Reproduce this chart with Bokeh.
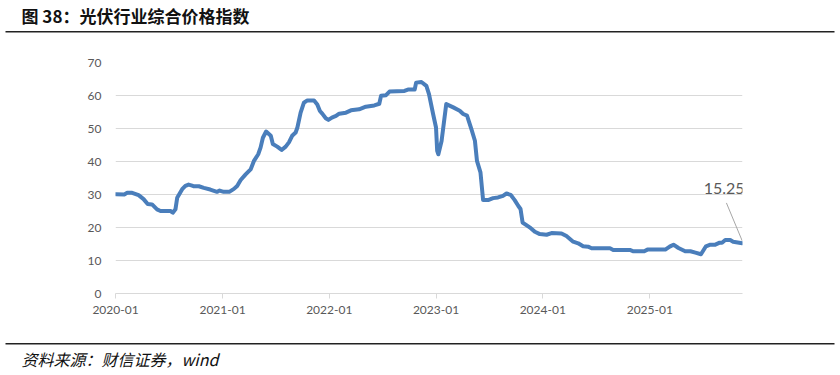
import pandas as pd
from datetime import timedelta
from bokeh.plotting import figure
from bokeh.layouts import column
from bokeh.models import (ColumnDataSource, Label, DatetimeTickFormatter,
                          FixedTicker, Range1d)
from bokeh.core.properties import value
from bokeh.embed import file_html
from bokeh.resources import INLINE

title_text = "图 38：光伏行业综合价格指数"
source_text = "资料来源：财信证券，wind"
last_label = "15.25"

dates = [
    "2020-01-03", "2020-01-31", "2020-02-10", "2020-02-27", "2020-03-20", "2020-04-06",
    "2020-04-20", "2020-05-05", "2020-05-22", "2020-06-03", "2020-07-07", "2020-07-15",
    "2020-07-24", "2020-07-30", "2020-08-16", "2020-08-27", "2020-09-07", "2020-09-19",
    "2020-09-24", "2020-10-12", "2020-10-29", "2020-11-20", "2020-12-13", "2020-12-22",
    "2021-01-05", "2021-01-24", "2021-02-09", "2021-02-20", "2021-03-04", "2021-03-21",
    "2021-04-07", "2021-04-18", "2021-05-03", "2021-05-11", "2021-05-19", "2021-05-30",
    "2021-06-15", "2021-06-22", "2021-07-07", "2021-07-22", "2021-08-05", "2021-08-16",
    "2021-08-27", "2021-09-08", "2021-09-14", "2021-09-25", "2021-10-06", "2021-10-18",
    "2021-11-10", "2021-11-21", "2021-11-30", "2021-12-08", "2021-12-20", "2021-12-29",
    "2022-01-10", "2022-01-24", "2022-02-04", "2022-02-27", "2022-03-16", "2022-04-13",
    "2022-05-06", "2022-06-04", "2022-06-21", "2022-06-27", "2022-07-14", "2022-07-26",
    "2022-09-15", "2022-09-27", "2022-10-20", "2022-10-25", "2022-11-12", "2022-11-29",
    "2022-12-08", "2022-12-22", "2023-01-01", "2023-01-05", "2023-01-09", "2023-01-20",
    "2023-02-05", "2023-03-01", "2023-03-23", "2023-04-04", "2023-04-17", "2023-05-02",
    "2023-05-14", "2023-05-21", "2023-06-02", "2023-06-11", "2023-06-28", "2023-07-15",
    "2023-08-01", "2023-08-18", "2023-08-30", "2023-09-13", "2023-09-27", "2023-10-09",
    "2023-10-17", "2023-10-24", "2023-11-06", "2023-11-21", "2023-12-05", "2023-12-22",
    "2024-01-14", "2024-01-31", "2024-03-05", "2024-03-22", "2024-04-14", "2024-05-01",
    "2024-05-18", "2024-06-04", "2024-06-16", "2024-08-18", "2024-08-29", "2024-10-25",
    "2024-11-06", "2024-12-13", "2024-12-24", "2025-02-23", "2025-03-10", "2025-03-23",
    "2025-04-09", "2025-05-02", "2025-05-20", "2025-06-06", "2025-06-25", "2025-07-12",
    "2025-07-27", "2025-08-13", "2025-08-28", "2025-09-05", "2025-09-16", "2025-10-03",
    "2025-10-13", "2025-11-13",
]
index_values = [
    30.1, 30.0, 30.5, 30.5, 29.8, 28.6,
    27.1, 27.0, 25.5, 25.0, 25.0, 24.5,
    25.5, 29.0, 31.6, 32.6, 33.0, 32.7,
    32.5, 32.5, 32.0, 31.5, 30.8, 31.2,
    30.8, 30.8, 31.7, 32.6, 34.4, 36.1,
    37.6, 40.1, 42.2, 44.2, 47.2, 49.1,
    47.8, 45.3, 44.5, 43.5, 44.5, 45.8,
    47.8, 48.8, 50.3, 54.8, 57.8, 58.5,
    58.5, 57.3, 55.3, 54.5, 53.1, 52.6,
    53.3, 53.8, 54.5, 54.8, 55.5, 55.8,
    56.6, 57.0, 57.5, 59.9, 60.1, 61.2,
    61.4, 61.8, 61.8, 63.9, 64.1, 62.9,
    60.4, 54.4, 50.3, 43.2, 42.2, 46.2,
    57.4, 56.4, 55.4, 54.4, 53.9, 49.8,
    46.3, 40.2, 36.7, 28.3, 28.3, 28.9,
    29.1, 29.6, 30.3, 29.9, 28.3, 26.6,
    25.6, 21.5, 20.7, 19.8, 18.7, 18.0,
    17.8, 18.3, 18.2, 17.4, 15.7, 15.2,
    14.3, 14.2, 13.7, 13.7, 13.2, 13.2,
    12.8, 12.8, 13.3, 13.3, 14.2, 14.8,
    13.8, 12.8, 12.8, 12.4, 11.9, 14.3,
    14.8, 14.8, 15.4, 15.4, 16.2, 16.2,
    15.7, 15.25,
]
year_ticks = ["2020-01-01", "2021-01-01", "2022-01-01", "2023-01-01", "2024-01-01", "2025-01-01"]
y_ticks = [0, 10, 20, 30, 40, 50, 60, 70]

x = pd.to_datetime(dates)
src = ColumnDataSource(dict(x=x, y=index_values))

W = 840
TOP_H, MAIN_H, BOT_H = 40, 295, 40
L, R, T, B = 115, 98, 22, 42

FONT = "Lato"
GRAY = "#595959"


def deco_figure(h):
    f = figure(width=W, height=h, output_backend="svg", toolbar_location=None,
               x_range=Range1d(0, W), y_range=Range1d(h, 0),
               min_border=0, min_border_left=0, min_border_right=0,
               min_border_top=0, min_border_bottom=0, frame_align=False)
    f.axis.visible = False
    f.grid.visible = False
    f.outline_line_color = None
    f.background_fill_color = "white"
    f.border_fill_color = "white"
    return f


# header
top = deco_figure(TOP_H)
top.text(x=[21], y=[15], text=[title_text], text_font=value("Noto Sans CJK SC"),
         text_font_style="bold", text_font_size="17px", text_color="#111111",
         text_baseline="middle", text_align="left")
top.segment(x0=[5], y0=[31.3], x1=[834], y1=[31.3], line_color="#222222", line_width=1.6)

# main chart
p = figure(width=W, height=MAIN_H, output_backend="svg", toolbar_location=None,
           x_axis_type="datetime",
           x_range=Range1d(pd.Timestamp("2020-01-01"), pd.Timestamp("2025-11-14")),
           y_range=Range1d(0, 70), frame_align=False,
           min_border_left=L, min_border_right=R, min_border_top=T, min_border_bottom=B)
p.outline_line_color = None
p.background_fill_color = "white"
p.border_fill_color = "white"

p.yaxis.ticker = FixedTicker(ticks=y_ticks)
p.yaxis.axis_line_color = None
p.yaxis.major_tick_line_color = None
p.yaxis.minor_tick_line_color = None
p.yaxis.major_tick_in = 0
p.yaxis.major_tick_out = 0
p.yaxis.major_label_standoff = 14
p.yaxis.major_label_text_font = FONT
p.yaxis.major_label_text_font_size = "12px"
p.yaxis.major_label_text_color = GRAY

tick_ms = [pd.Timestamp(t).value / 1e6 for t in year_ticks]
p.xaxis.ticker = FixedTicker(ticks=tick_ms)
p.xaxis.formatter = DatetimeTickFormatter(years="%Y-%m", months="%Y-%m", days="%Y-%m")
p.xaxis.axis_line_color = "#d9d9d9"
p.xaxis.axis_line_width = 1
p.xaxis.major_tick_line_color = "#d9d9d9"
p.xaxis.major_tick_in = 0
p.xaxis.major_tick_out = 5
p.xaxis.minor_tick_line_color = None
p.xaxis.major_label_standoff = 7
p.xaxis.major_label_text_font = FONT
p.xaxis.major_label_text_font_size = "12px"
p.xaxis.major_label_text_color = GRAY

p.xgrid.grid_line_color = None
p.ygrid.grid_line_color = "#d9d9d9"
p.ygrid.grid_line_width = 1

p.line("x", "y", source=src, line_color="#4a7ebb", line_width=4,
       line_join="round", line_cap="round")

# annotation of last value
last_x = x[-1]
last_y = index_values[-1]
p.segment(x0=[last_x - timedelta(days=54)], y0=[last_y + 12.2],
          x1=[last_x], y1=[last_y + 0.7], line_color="#a6a6a6", line_width=1)
p.add_layout(Label(x=last_x - timedelta(days=62), y=last_y + 16.5, text=last_label,
                   text_align="center", text_baseline="middle",
                   text_font=FONT, text_font_size="16px", text_color=GRAY))

# footer
bot = deco_figure(BOT_H)
bot.segment(x0=[5], y0=[8.3], x1=[834], y1=[8.3], line_color="#222222", line_width=1.6)
bot.text(x=[21], y=[23], text=[source_text], text_font=value("Noto Sans CJK SC"),
         text_font_style="italic", text_font_size="16px", text_color="#111111",
         text_baseline="middle", text_align="left")

layout = column(top, p, bot, spacing=0)
open("out.html", "w").write(file_html(layout, INLINE))
